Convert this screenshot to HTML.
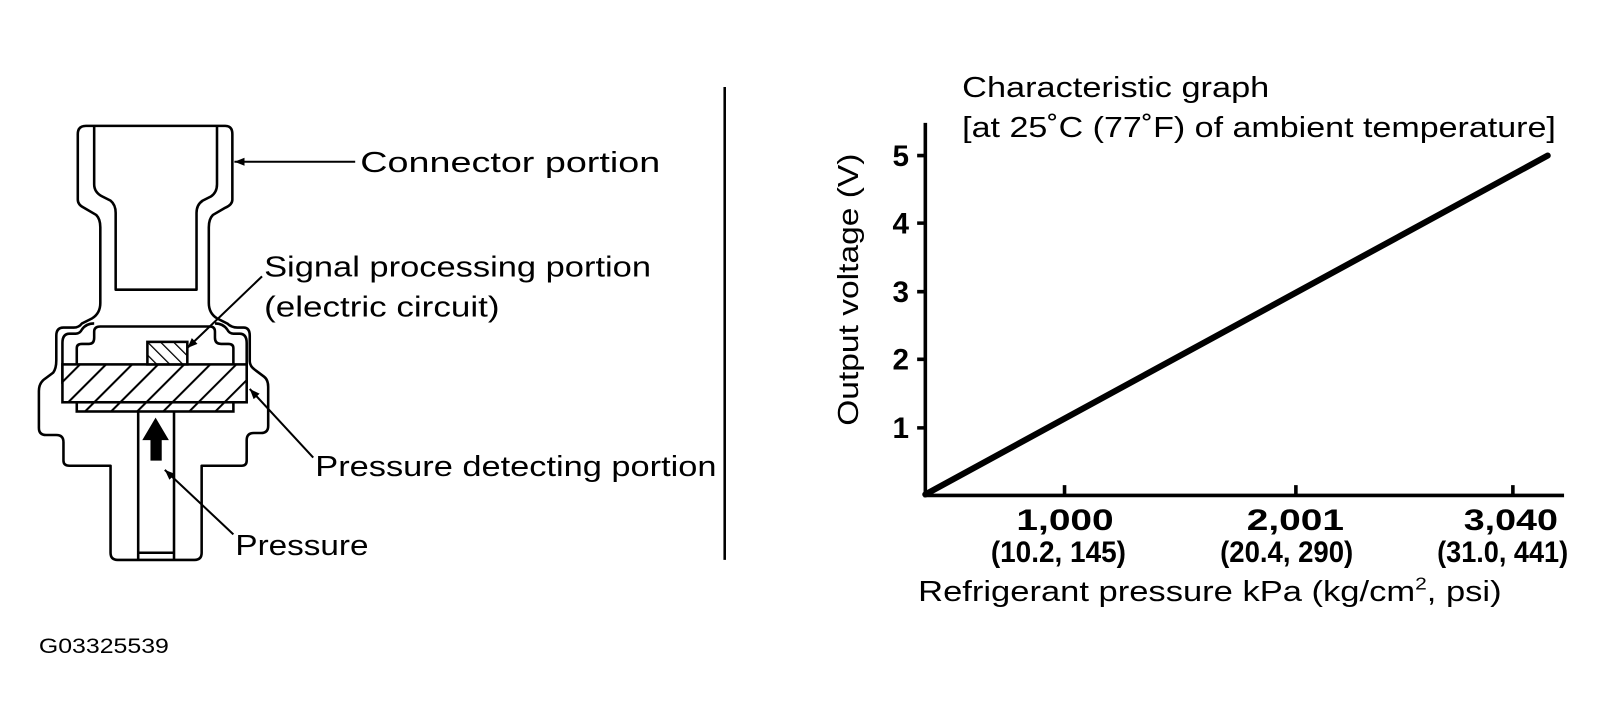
<!DOCTYPE html>
<html><head><meta charset="utf-8"><style>
html,body{margin:0;padding:0;background:#fff;}
svg{display:block;}
text{font-family:"Liberation Sans",Arial,sans-serif;fill:#000;}
</style></head><body>
<svg width="1605" height="727" viewBox="0 0 1605 727" xmlns="http://www.w3.org/2000/svg">
<defs>
<pattern id="h" patternUnits="userSpaceOnUse" width="18" height="18" patternTransform="rotate(45)">
<rect width="18" height="18" fill="#fff"/><line x1="0" y1="0" x2="0" y2="18" stroke="#000" stroke-width="4"/>
</pattern>
<pattern id="h2" patternUnits="userSpaceOnUse" width="9" height="9" patternTransform="rotate(-45)">
<rect width="9" height="9" fill="#fff"/><line x1="0" y1="0" x2="0" y2="9" stroke="#000" stroke-width="2.5"/>
</pattern>
<marker id="a" markerWidth="10" markerHeight="8" refX="10" refY="4" orient="auto" markerUnits="userSpaceOnUse">
<path d="M0,0 L10,4 L0,8 Z" fill="#000"/></marker>
</defs>
<g transform="scale(1.0236)">
<g fill="none" stroke="#000" stroke-width="2.5" stroke-linejoin="round">
<path d="M84,123 H220 Q227,123 227,131 V195 Q227,200 220,203 L208,210 Q204,214 204,222 V296 Q204,306 212,311 L222,316 Q226,320 232,320 H238 Q244,320 244,328 V353 Q244,358 250,362 L258,368 Q262,371 262,378 V416 Q262,423 255,423 H248 Q241,423 241,430 V450 Q241,455 236,455 H197 V540 Q197,547 190,547 H115 Q108,547 108,540 V455 H68 Q62,455 62,450 V432 Q62,425 55,425 H45 Q38,425 38,418 V382 Q38,374 44,370 L52,364 Q55,360 55,352 V328 Q55,320 62,320 H72 Q77,320 80,316 L90,311 Q98,306 98,296 V222 Q98,214 94,210 L82,203 Q76,200 76,195 V131 Q76,123 84,123 Z"/>
<path d="M92,124 V180 Q92,188 100,192 L108,196 Q113,200 113,208 V283 H192 V208 Q192,200 198,196 L206,192 Q212,188 212,180 V124"/>
<path d="M75,356 V340 Q75,336 80,336 H87 Q92,336 92,330 V324 Q92,319 98,319 H205 Q210,319 210,324 V330 Q210,336 216,336 H223 Q228,336 228,340 V356"/>
<path d="M61,375 V335 Q61,326 68,326 H74 Q78,326 80,322 Q84,316 92,316"/>
<path d="M241,375 V335 Q241,326 234,326 H228 Q224,326 222,322 Q218,316 210,316"/>
<path d="M135,402 V547 M170,402 V547 M135,540 H170"/>
</g>
<rect x="61" y="356" width="180" height="37" fill="url(#h)" stroke="#000" stroke-width="2.5"/>
<rect x="75" y="393" width="153" height="9" fill="url(#h)" stroke="#000" stroke-width="2.5"/>
<rect x="144" y="334" width="39" height="22" fill="url(#h2)" stroke="#000" stroke-width="2.5"/>
<path d="M147,450 V430 H139 L152,408 L165,430 H158 V450 Z" fill="#000"/>
<g stroke="#000" stroke-width="2" fill="none">
<line x1="347" y1="158" x2="229" y2="158" marker-end="url(#a)"/>
<line x1="256" y1="270" x2="183" y2="340" marker-end="url(#a)"/>
<line x1="306" y1="447" x2="244" y2="380" marker-end="url(#a)"/>
<line x1="228" y1="522" x2="161" y2="459" marker-end="url(#a)"/>
</g>
<g font-size="28">
<text x="352" y="168" textLength="293" lengthAdjust="spacingAndGlyphs">Connector portion</text>
<text x="258" y="270" textLength="378" lengthAdjust="spacingAndGlyphs">Signal processing portion</text>
<text x="258" y="309" textLength="230" lengthAdjust="spacingAndGlyphs">(electric circuit)</text>
<text x="308" y="465" textLength="392" lengthAdjust="spacingAndGlyphs">Pressure detecting portion</text>
<text x="230" y="542" textLength="130" lengthAdjust="spacingAndGlyphs">Pressure</text>
</g>
<text x="38" y="638" font-size="21" textLength="127" lengthAdjust="spacingAndGlyphs">G03325539</text>
<line x1="708" y1="85" x2="708" y2="547" stroke="#000" stroke-width="2.5"/>
<g stroke="#000" stroke-width="3.5" fill="none">
<path d="M904,120 V484 H1528"/>
<path d="M896,152 H904 M896,218 H904 M896,285 H904 M896,351 H904 M896,418 H904"/>
<path d="M1040,484 V474 M1266,484 V474 M1478,484 V474"/>
</g>
<line x1="904" y1="483" x2="1512" y2="152" stroke="#000" stroke-width="6" stroke-linecap="round"/>
<g font-size="28">
<text x="940" y="95" textLength="300" lengthAdjust="spacingAndGlyphs">Characteristic graph</text>
<text x="940" y="134" textLength="580" lengthAdjust="spacingAndGlyphs">[at 25˚C (77˚F) of ambient temperature]</text>
<text transform="translate(838 283) rotate(-90)" x="-133" y="0" textLength="266" lengthAdjust="spacingAndGlyphs">Output voltage (V)</text>
<text x="897" y="587" textLength="570" lengthAdjust="spacingAndGlyphs">Refrigerant pressure kPa (kg/cm<tspan font-size="17" dy="-11">2</tspan><tspan dy="11">, psi)</tspan></text>
</g>
<g font-size="29" font-weight="bold" text-anchor="middle">
<text x="880" y="162">5</text><text x="880" y="228">4</text><text x="880" y="295">3</text><text x="880" y="361">2</text><text x="880" y="428">1</text>
</g>
<g font-size="29" font-weight="bold">
<text x="993" y="518" textLength="95" lengthAdjust="spacingAndGlyphs">1,000</text>
<text x="968" y="549" textLength="132" lengthAdjust="spacingAndGlyphs">(10.2, 145)</text>
<text x="1218" y="518" textLength="95" lengthAdjust="spacingAndGlyphs">2,001</text>
<text x="1192" y="549" textLength="130" lengthAdjust="spacingAndGlyphs">(20.4, 290)</text>
<text x="1430" y="518" textLength="92" lengthAdjust="spacingAndGlyphs">3,040</text>
<text x="1404" y="549" textLength="128" lengthAdjust="spacingAndGlyphs">(31.0, 441)</text>
</g>
</g>
</svg>
</body></html>
